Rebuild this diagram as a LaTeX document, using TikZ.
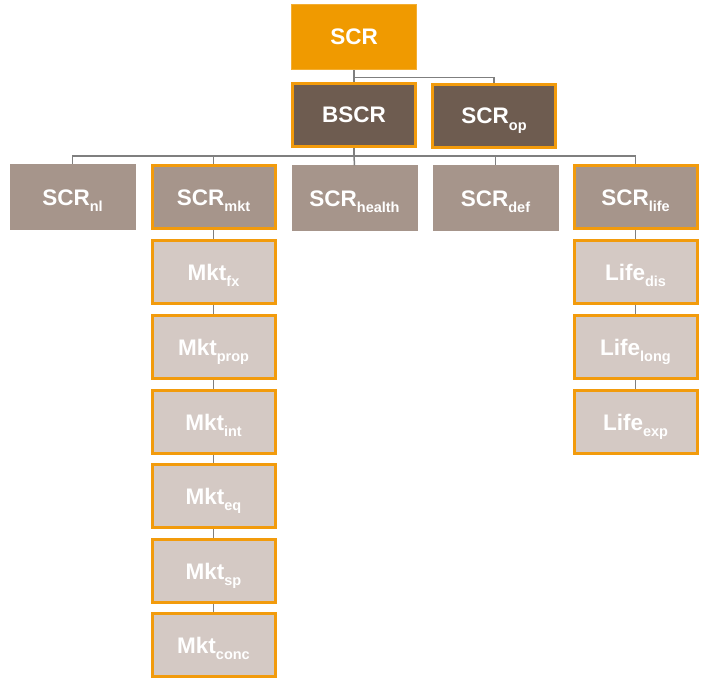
\documentclass[tikz,border=0pt]{standalone}
\usepackage{fontspec}
\setmainfont{Liberation Sans}
\definecolor{scrorange}{HTML}{F09A00}
\definecolor{bordorange}{HTML}{F29B0C}
\definecolor{darkbrown}{HTML}{6E5C50}
\definecolor{midbrown}{HTML}{A6958B}
\definecolor{lightbrown}{HTML}{D4C9C4}
\definecolor{linegray}{HTML}{7F7F7F}
\newcommand{\lbl}[2]{#1\raisebox{-6.5pt}[0pt][0pt]{\fontsize{14.5}{14.5}\selectfont #2}}
\tikzset{
  basebox/.style={rectangle, inner sep=0pt, align=center, text=white,
    font=\fontsize{22.5}{22.5}\selectfont\bfseries},
  plainbox/.style={basebox, minimum width=126pt, minimum height=66pt, draw=none},
  edgedbox/.style={basebox, minimum width=123pt, minimum height=63pt, draw=bordorange, line width=3pt},
  topbox/.style={plainbox, fill=scrorange, draw=scrorange!80!white, line width=1pt, minimum width=125pt, minimum height=65pt},
  lvltwo/.style={edgedbox, fill=darkbrown},
  lvlthree/.style={plainbox, fill=midbrown},
  lvlthreeb/.style={edgedbox, fill=midbrown},
  lvlfour/.style={edgedbox, fill=lightbrown},
  conn/.style={draw=linegray, line width=1.5pt}
}
\begin{document}
\begin{tikzpicture}[x=1pt,y=-1pt]
\useasboundingbox (0,0) rectangle (702,679);
\node[topbox] (scr) at (354,37) {SCR};
\node[lvltwo] (bscr) at (354,115) {BSCR};
\node[lvltwo] (scrop) at (494,116) {\lbl{SCR}{op}};
\node[lvlthree] (nl) at (72.5,197.5) {\lbl{SCR}{nl}};
\node[lvlthreeb] (mkt) at (213.5,197.5) {\lbl{SCR}{mkt}};
\node[lvlthree] (health) at (354.5,198.5) {\lbl{SCR}{health}};
\node[lvlthree] (def) at (495.5,198.5) {\lbl{SCR}{def}};
\node[lvlthreeb] (life) at (635.5,197.5) {\lbl{SCR}{life}};
\node[lvlfour] (fx) at (213.5,272) {\lbl{Mkt}{fx}};
\node[lvlfour] (prop) at (213.5,347) {\lbl{Mkt}{prop}};
\node[lvlfour] (int) at (213.5,422) {\lbl{Mkt}{int}};
\node[lvlfour] (eq) at (213.5,496) {\lbl{Mkt}{eq}};
\node[lvlfour] (sp) at (213.5,571) {\lbl{Mkt}{sp}};
\node[lvlfour] (conc) at (213.5,645) {\lbl{Mkt}{conc}};
\node[lvlfour] (dis) at (635.5,272) {\lbl{Life}{dis}};
\node[lvlfour] (long) at (635.5,347) {\lbl{Life}{long}};
\node[lvlfour] (exp) at (635.5,422) {\lbl{Life}{exp}};
\coordinate (topbus) at (354,77.5);
\coordinate (bus) at (354,156);
\begin{scope}[on background layer/.try]
\draw[conn] (scr.south) -- (bscr.north);
\draw[conn] (topbus) -| (scrop.north);
\draw[conn] (bscr.south) -- (bus);
\draw[conn] (bus) -| (nl.north);
\draw[conn] (bus) -| (mkt.north);
\draw[conn] (bus) -- (health.north);
\draw[conn] (bus) -| (def.north);
\draw[conn] (bus) -| (life.north);
\draw[conn] (mkt.south) -- (fx.north);
\draw[conn] (fx.south) -- (prop.north);
\draw[conn] (prop.south) -- (int.north);
\draw[conn] (int.south) -- (eq.north);
\draw[conn] (eq.south) -- (sp.north);
\draw[conn] (sp.south) -- (conc.north);
\draw[conn] (life.south) -- (dis.north);
\draw[conn] (dis.south) -- (long.north);
\draw[conn] (long.south) -- (exp.north);
\end{scope}
\end{tikzpicture}
\end{document}
